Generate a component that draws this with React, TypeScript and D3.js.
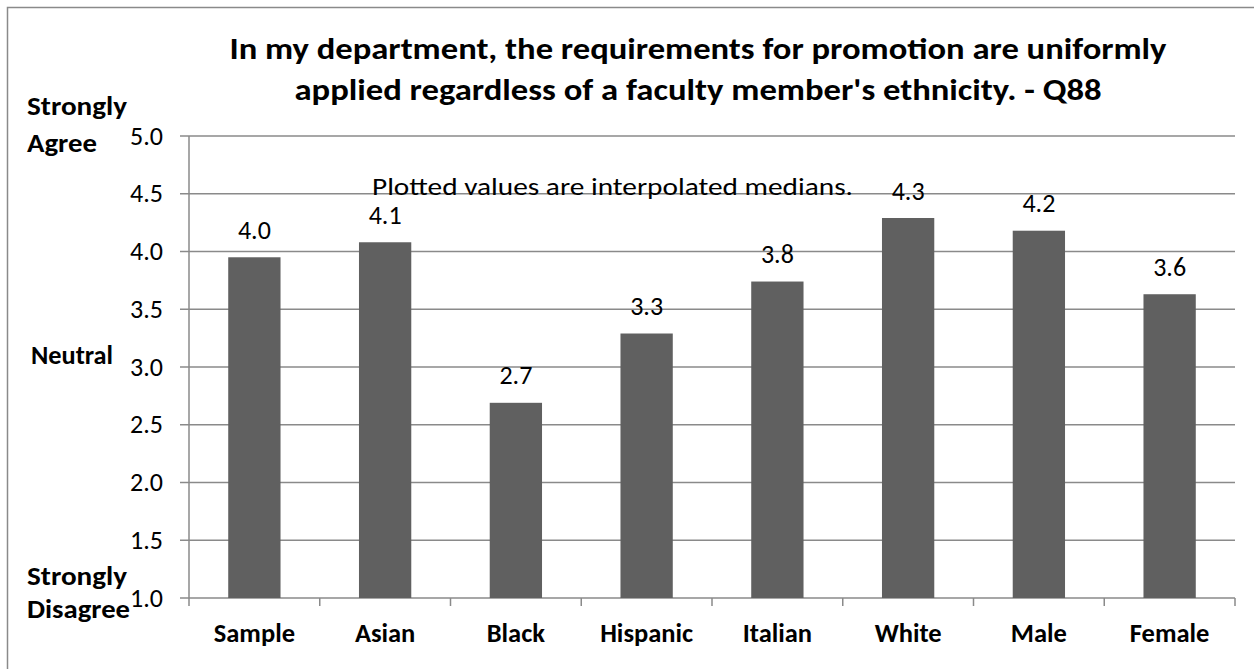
import React from "react";
import * as d3 from "d3";

const categories = ["Sample", "Asian", "Black", "Hispanic", "Italian", "White", "Male", "Female"];
const values = [3.95, 4.08, 2.69, 3.29, 3.74, 4.29, 4.18, 3.63];
const valueLabels = ["4.0", "4.1", "2.7", "3.3", "3.8", "4.3", "4.2", "3.6"];
const yTicks = [1.0, 1.5, 2.0, 2.5, 3.0, 3.5, 4.0, 4.5, 5.0];
const titleLines = [
  "In my department, the requirements for promotion are uniformly",
  "applied regardless of a faculty member's ethnicity. - Q88",
];
const note = "Plotted values are interpolated medians.";

const W = 1254;
const H = 669;
const FONT = "Carlito, Calibri, Lato, 'Open Sans', sans-serif";

export default function App() {
  const left = 189, right = 1235, top = 136, bottom = 598;
  const x = d3.scaleBand<string>().domain(categories).range([left, right]).paddingInner(0.6).paddingOuter(0.3);
  const xOuter = d3.scaleBand<string>().domain(categories).range([left, right]);
  const y = d3.scaleLinear().domain([1, 5]).range([bottom, top]);
  const grid = "#8a8a8a";

  return (
    <svg width={W} height={H} style={{ position: "absolute", left: 0, top: 0, background: "#fff" }} fontFamily={FONT}>
      <rect x={7.5} y={7.5} width={W + 20} height={H + 20} fill="#fff" stroke={grid} strokeWidth={1.5} />
      {/* title */}
      <text x={698} y={59} textAnchor="middle" fontSize={31} fontWeight="bold" textLength={937} lengthAdjust="spacingAndGlyphs">{titleLines[0]}</text>
      <text x={698} y={100} textAnchor="middle" fontSize={31} fontWeight="bold" textLength={807} lengthAdjust="spacingAndGlyphs">{titleLines[1]}</text>
      {/* gridlines and y ticks */}
      {yTicks.map((t) => (
        <g key={t}>
          <line x1={180} x2={right} y1={y(t)} y2={y(t)} stroke={grid} strokeWidth={1.5} />
          <text x={163} y={y(t)} dy="0.33em" textAnchor="end" fontSize={26}>{t.toFixed(1)}</text>
        </g>
      ))}
      {/* y axis */}
      <line x1={left} x2={left} y1={top} y2={bottom} stroke={grid} strokeWidth={1.5} />
      {/* x ticks */}
      {categories.map((c) => (
        <line key={c} x1={xOuter(c)!} x2={xOuter(c)!} y1={bottom} y2={bottom + 8} stroke={grid} strokeWidth={1.5} />
      ))}
      <line x1={right} x2={right} y1={bottom} y2={bottom + 8} stroke={grid} strokeWidth={1.5} />
      {/* bars */}
      {categories.map((c, i) => (
        <rect key={c} x={x(c)!} y={y(values[i])} width={x.bandwidth()} height={y(1) - y(values[i])} fill="#606060" />
      ))}
      {/* value labels */}
      {categories.map((c, i) => (
        <text key={c} x={x(c)! + x.bandwidth() / 2} y={y(values[i]) - 27} dy="0.33em" textAnchor="middle" fontSize={26}>{valueLabels[i]}</text>
      ))}
      {/* category labels */}
      {categories.map((c) => (
        <text key={c} x={xOuter(c)! + xOuter.bandwidth() / 2} y={642} textAnchor="middle" fontSize={26.5} fontWeight="bold">{c}</text>
      ))}
      {/* note */}
      <text x={372} y={195} fontSize={24} textLength={481} lengthAdjust="spacingAndGlyphs">{note}</text>
      {/* side labels */}
      <g fontSize={26} fontWeight="bold">
        <text x={27} y={115} textLength={100} lengthAdjust="spacingAndGlyphs">Strongly</text>
        <text x={27} y={152} textLength={70} lengthAdjust="spacingAndGlyphs">Agree</text>
        <text x={31} y={364} textLength={82} lengthAdjust="spacingAndGlyphs">Neutral</text>
        <text x={27} y={585} textLength={100} lengthAdjust="spacingAndGlyphs">Strongly</text>
        <text x={27} y={618} textLength={103} lengthAdjust="spacingAndGlyphs">Disagree</text>
      </g>
    </svg>
  );
}
